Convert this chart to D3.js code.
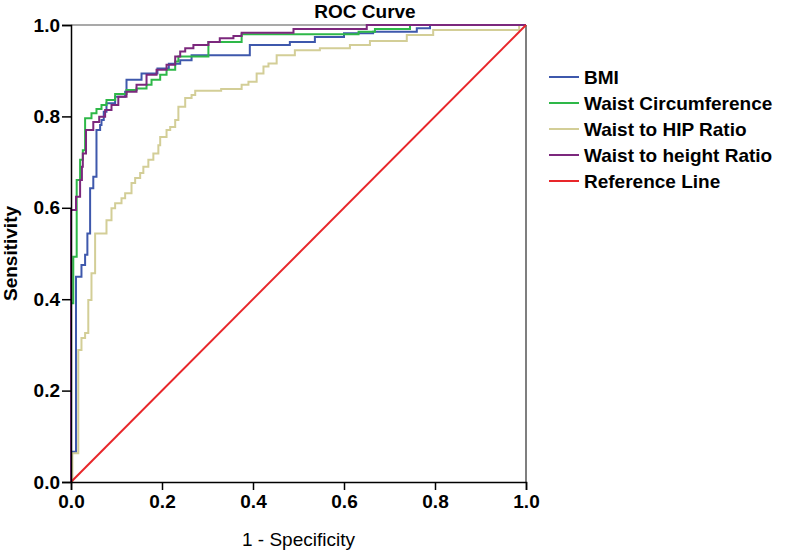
<!DOCTYPE html>
<html>
<head>
<meta charset="utf-8">
<script src="https://cdn.jsdelivr.net/npm/d3@7"></script>
<style>
  html, body { margin: 0; padding: 0; background: #fff; }
  svg { display: block; font-family: "Liberation Sans", Arial, sans-serif; }
</style>
</head>
<body>
<svg id="chart" width="787" height="554"></svg>
<script>
// ---- Data (points: [1 - specificity, sensitivity]; each point = where the curve steps up) ----
const seriesNames = ["BMI", "Waist Circumference", "Waist to HIP Ratio", "Waist to height Ratio", "Reference Line"];
const seriesColors = ["#3E58AC", "#2EB848", "#D3CE97", "#7C287D", "#E8262A"];

const bmi = [[0,0],[0,0.066],[0.011,0.449],[0.023,0.475],[0.031,0.497],[0.036,0.544],[0.042,0.643],[0.049,0.668],
  [0.056,0.770],[0.064,0.781],[0.067,0.792],[0.072,0.810],[0.078,0.829],[0.097,0.843],[0.119,0.854],[0.122,0.880],
  [0.155,0.894],[0.190,0.905],[0.215,0.915],[0.240,0.923],[0.265,0.934],[0.393,0.956],[0.481,0.963],[0.536,0.974],
  [0.600,0.982],[0.664,0.985],[0.760,0.993],[0.789,1],[1,1]];

const waistCirc = [[0,0],[0,0.391],[0.005,0.493],[0.0125,0.661],[0.020,0.705],[0.026,0.726],[0.031,0.796],[0.045,0.807],
  [0.056,0.816],[0.067,0.825],[0.078,0.836],[0.097,0.849],[0.122,0.858],[0.144,0.861],[0.166,0.869],[0.177,0.880],
  [0.196,0.891],[0.210,0.902],[0.229,0.920],[0.236,0.931],[0.302,0.963],[0.375,0.980],[0.632,0.985],[0.668,0.991],
  [0.745,1],[1,1]];

const waistHip = [[0,0],[0.003,0.063],[0.016,0.289],[0.023,0.315],[0.031,0.326],[0.038,0.398],[0.045,0.457],[0.053,0.544],
  [0.078,0.573],[0.089,0.599],[0.097,0.610],[0.111,0.621],[0.119,0.632],[0.133,0.654],[0.141,0.665],[0.152,0.676],
  [0.159,0.690],[0.170,0.705],[0.181,0.719],[0.192,0.737],[0.196,0.755],[0.210,0.770],[0.218,0.777],[0.229,0.792],
  [0.236,0.821],[0.251,0.840],[0.265,0.847],[0.273,0.856],[0.330,0.860],[0.375,0.869],[0.390,0.876],[0.408,0.894],
  [0.423,0.909],[0.434,0.916],[0.452,0.934],[0.492,0.945],[0.547,0.949],[0.613,0.956],[0.657,0.965],[0.738,0.978],
  [0.796,0.989],[0.985,1],[1,1]];

const waistHeight = [[0,0],[0,0.595],[0.011,0.624],[0.020,0.661],[0.024,0.690],[0.026,0.719],[0.033,0.770],[0.049,0.788],
  [0.062,0.799],[0.075,0.814],[0.089,0.825],[0.104,0.843],[0.122,0.854],[0.144,0.869],[0.166,0.891],[0.188,0.902],
  [0.210,0.913],[0.229,0.931],[0.240,0.942],[0.251,0.949],[0.269,0.956],[0.302,0.963],[0.327,0.971],[0.357,0.976],
  [0.375,0.983],[0.489,0.991],[0.650,1],[1,1]];

const referenceLine = [[0,0],[1,1]];

const xTicks = [0.0, 0.2, 0.4, 0.6, 0.8, 1.0];
const yTicks = [0.0, 0.2, 0.4, 0.6, 0.8, 1.0];
const titleText = "ROC Curve";
const xTitle = "1 - Specificity";
const yTitle = "Sensitivity";

(function draw() {
  const svg = d3.select("#chart");
  const pL = 71, pR = 526, pT = 25, pB = 482;
  const x = d3.scaleLinear().domain([0, 1]).range([pL, pR]);
  const y = d3.scaleLinear().domain([0, 1]).range([pB, pT]);

  // frame (top and right)
  svg.append("line").attr("x1", pL).attr("x2", pR).attr("y1", pT).attr("y2", pT)
    .attr("stroke", "#8c8c8c").attr("stroke-width", 1.5);
  svg.append("line").attr("x1", pR).attr("x2", pR).attr("y1", pT).attr("y2", pB)
    .attr("stroke", "#555").attr("stroke-width", 1.5);

  // series
  const stepLine = d3.line().x(d => x(d[0])).y(d => y(d[1])).curve(d3.curveStepAfter);
  const straight = d3.line().x(d => x(d[0])).y(d => y(d[1]));
  const allSeries = [bmi, waistCirc, waistHip, waistHeight];
  allSeries.forEach((s, i) => {
    svg.append("path").datum(s).attr("d", stepLine)
      .attr("fill", "none").attr("stroke", seriesColors[i]).attr("stroke-width", 2);
  });
  svg.append("path").datum(referenceLine).attr("d", straight)
    .attr("fill", "none").attr("stroke", seriesColors[4]).attr("stroke-width", 2);

  // axes
  const xAxis = d3.axisBottom(x).tickValues(xTicks).tickFormat(d3.format(".1f")).tickSize(8).tickPadding(5);
  const yAxis = d3.axisLeft(y).tickValues(yTicks).tickFormat(d3.format(".1f")).tickSize(9).tickPadding(2);

  const gx = svg.append("g").attr("transform", `translate(0,${pB})`).call(xAxis);
  const gy = svg.append("g").attr("transform", `translate(${pL},0)`).call(yAxis);
  [gx, gy].forEach(g => {
    g.select(".domain").attr("stroke", "#000").attr("stroke-width", 1.5);
    g.selectAll(".tick line").attr("stroke", "#000").attr("stroke-width", 1.5);
    g.selectAll(".tick text").attr("fill", "#000").style("font-size", "19px").style("font-weight", "bold")
      .style("font-family", "'Liberation Sans', Arial, sans-serif");
  });

  // titles
  svg.append("text").attr("x", 365).attr("y", 18).attr("text-anchor", "middle")
    .style("font-size", "19px").style("font-weight", "bold").text(titleText);
  svg.append("text").attr("x", (pL + pR) / 2).attr("y", 546).attr("text-anchor", "middle")
    .style("font-size", "19px").text(xTitle);
  svg.append("text").attr("transform", `translate(17,${(pT + pB) / 2}) rotate(-90)`)
    .attr("text-anchor", "middle").style("font-size", "19px").style("font-weight", "bold").text(yTitle);

  // legend
  const legendY0 = 77, legendStep = 26;
  seriesNames.forEach((name, i) => {
    const ly = legendY0 + i * legendStep;
    svg.append("line").attr("x1", 549).attr("x2", 579).attr("y1", ly).attr("y2", ly)
      .attr("stroke", seriesColors[i]).attr("stroke-width", 2);
    svg.append("text").attr("x", 584).attr("y", ly + 7)
      .style("font-size", "19px").style("font-weight", "bold").text(name);
  });
})();
</script>
</body>
</html>
